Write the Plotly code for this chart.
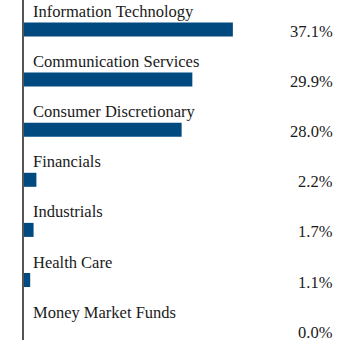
import plotly.graph_objects as go

categories = ["Information Technology", "Communication Services", "Consumer Discretionary",
              "Financials", "Industrials", "Health Care", "Money Market Funds"]
values = [37.1, 29.9, 28.0, 2.2, 1.7, 1.1, 0.0]
labels = ["37.1%", "29.9%", "28.0%", "2.2%", "1.7%", "1.1%", "0.0%"]

BAR = "#004a80"
FONT = "Liberation Serif"

idx = list(range(len(categories)))
fig = go.Figure(go.Bar(x=values, y=idx, orientation="h", marker_color=BAR,
                       marker_line_width=0, width=0.28, hoverinfo="skip"))

ann = []
for i, (c, l) in enumerate(zip(categories, labels)):
    ann.append(dict(x=0, y=i, xref="x", yref="y", text=c, showarrow=False,
                    xanchor="left", yanchor="middle", xshift=7, yshift=18,
                    font=dict(family=FONT, size=16.5, color="#1a1a1a")))
    ann.append(dict(x=0.9256, y=i, xref="paper", yref="y", text=l, showarrow=False,
                    xanchor="right", yanchor="middle", yshift=-2,
                    font=dict(family=FONT, size=16.5, color="#1a1a1a")))

fig.update_layout(
    width=360, height=346, margin=dict(l=24, r=0, t=0, b=6),
    paper_bgcolor="white", plot_bgcolor="white", showlegend=False,
    font=dict(family=FONT),
    annotations=ann,
    xaxis=dict(range=[0, 336 / 5.63], visible=False, fixedrange=True),
    yaxis=dict(range=[(340 - 29.5) / 50.1, -29.5 / 50.1], showticklabels=False,
               showgrid=False, zeroline=False, showline=True, linecolor="#555",
               linewidth=1.5, ticks="", fixedrange=True),
)
fig.write_html("out.html")
